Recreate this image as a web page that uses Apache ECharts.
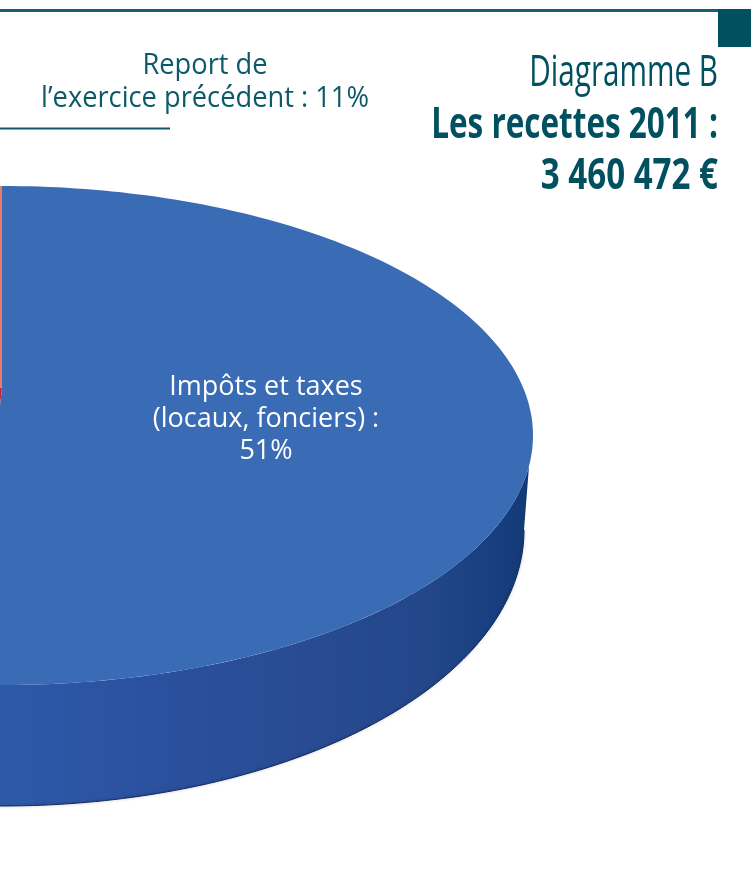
<!DOCTYPE html>
<html><head><meta charset="utf-8">
<style>html,body{margin:0;padding:0;background:#fff}#c{width:751px;height:890px}</style>
<script src="https://cdn.jsdelivr.net/npm/echarts@6/dist/echarts.min.js"></script>
</head><body><div id="c"></div>
<script>
const sliceNames = ["Impôts et taxes\n(locaux, fonciers)", "Autres recettes", "Report de\nl’exercice précédent"];
const sliceShares = [51, 38, 11];
const titleLines = ["Diagramme B", "Les recettes 2011 :", "3 460 472 €"];

const TEAL = '#00505f';
const sliceColors = ['#3a6bb5', '#c4203a', '#e87d6c'];
const upperRim = {cx: 2, cy: 435.5, rx: 531, ry: 249.5, apexY: 388};
const lowerRim = {cx: 2, cy: 530, rx: 522, ry: 276};
const total = sliceShares.reduce((a, b) => a + b, 0);
const pt = (e, deg) => { const t = deg * Math.PI / 180; return [e.cx + e.rx * Math.sin(t), e.cy - e.ry * Math.cos(t)]; };
const arc = (e, a, b) => { const out = [], n = Math.max(2, Math.ceil(Math.abs(b - a))); for (let i = 0; i <= n; i++) out.push(pt(e, a + (b - a) * i / n)); return out; };

function renderSlice(params, api) {
  const i = params.dataIndex;
  const before = sliceShares.slice(0, i).reduce((a, b) => a + b, 0);
  const a0 = before / total * 360, a1 = (before + sliceShares[i]) / total * 360;
  const P = p => api.coord(p);
  const children = [];
  if (i === 0) {
    const sidePts = arc(upperRim, a1, 97).concat(arc(lowerRim, 90, a1)).map(P);
    children.push({type: 'polygon', shape: {points: sidePts}, style: {
      fill: new echarts.graphic.LinearGradient(0, 0, 1, 0, [
        {offset: 0, color: '#2e5aab'}, {offset: .3, color: '#2b52a0'},
        {offset: .6, color: '#284b93'}, {offset: .82, color: '#234789'},
        {offset: .93, color: '#183f80'}, {offset: 1, color: '#123a76'}])}});
    children.push({type: 'polyline', shape: {points: arc(lowerRim, 90, a1).map(P)}, style: {
      stroke: '#14295a', lineWidth: 1, fill: null, shadowBlur: 3, shadowColor: 'rgba(20,30,70,.4)'}});
  }
  const wedge = [[upperRim.cx, upperRim.apexY]].concat(arc(upperRim, a0, a1)).map(P);
  children.push({type: 'polygon', z2: 5 + (i === 0 ? 1 : 0), shape: {points: wedge}, style: {fill: sliceColors[i]}});
  if (i === 0) {
    const c = P([266, 419]);
    children.push({type: 'text', z2: 10, x: c[0], y: c[1], scaleX: 1.0, style: {
      text: sliceNames[0] + ' :\n' + sliceShares[0] + '%', fill: '#fff',
      font: '27px "Open Sans"', lineHeight: 32, align: 'center', verticalAlign: 'middle'}});
  }
  return {type: 'group', children};
}

const chart = echarts.init(document.getElementById('c'), null, {renderer: 'canvas'});
chart.setOption({
  animation: false,
  grid: {left: 0, right: 0, top: 0, bottom: 0},
  xAxis: {type: 'value', min: 0, max: 751, show: false},
  yAxis: {type: 'value', min: 0, max: 890, inverse: true, show: false},
  series: [{type: 'custom', coordinateSystem: 'cartesian2d', renderItem: renderSlice, clip: true, silent: true,
    data: sliceShares.map((v, i) => ({name: sliceNames[i], value: [0, 0, v]}))}],
  graphic: [
    {type: 'rect', shape: {x: 0, y: 9, width: 720, height: 3}, style: {fill: '#1a5d6c'}},
    {type: 'rect', shape: {x: 718, y: 9, width: 33, height: 38}, style: {fill: TEAL}},
    {type: 'rect', shape: {x: 0, y: 127.5, width: 170, height: 2}, style: {fill: '#14596a'}},
    {type: 'text', x: 205, y: 82, scaleX: 0.94, style: {text: sliceNames[2] + ' : ' + sliceShares[2] + '%', fill: '#0c5a69',
      font: '29px "Open Sans"', lineHeight: 33, align: 'center', verticalAlign: 'middle'}},
    {type: 'text', x: 718, y: 74, scaleX: 0.69, style: {text: titleLines[0], fill: TEAL, font: '43px "Open Sans"', align: 'right', verticalAlign: 'middle'}},
    {type: 'text', x: 718, y: 126, scaleX: 0.732, style: {text: titleLines[1], fill: TEAL, font: 'bold 43px "Open Sans"', align: 'right', verticalAlign: 'middle'}},
    {type: 'text', x: 718, y: 177, scaleX: 0.77, style: {text: titleLines[2], fill: TEAL, font: 'bold 43px "Open Sans"', align: 'right', verticalAlign: 'middle'}}
  ]
});
</script></body></html>
